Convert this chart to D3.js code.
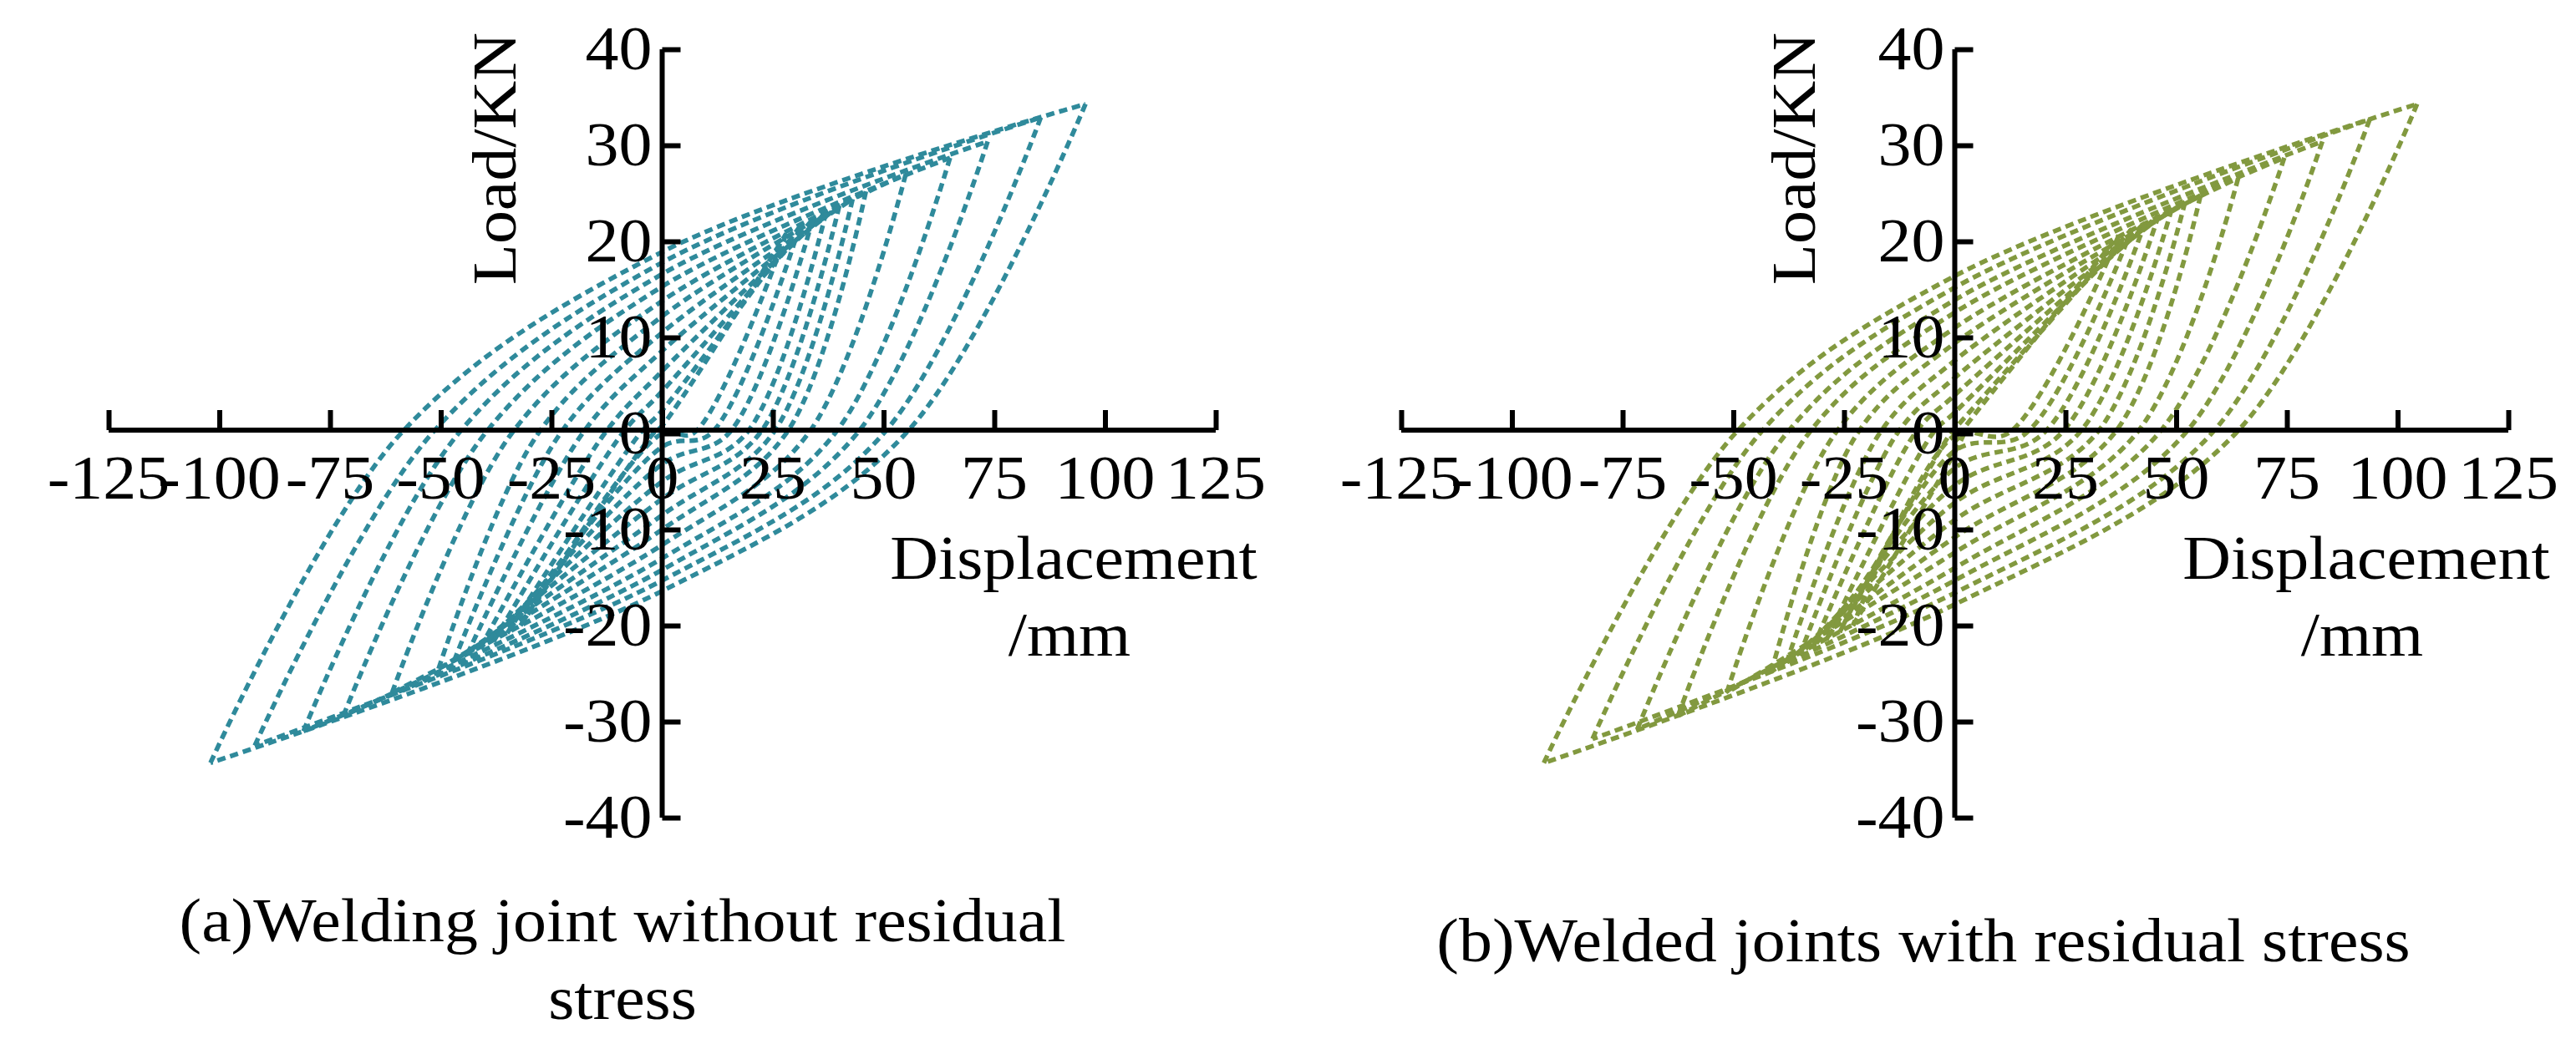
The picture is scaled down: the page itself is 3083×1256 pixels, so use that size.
<!DOCTYPE html>
<html><head><meta charset="utf-8">
<script src="https://cdn.jsdelivr.net/npm/d3@7"></script>
<style>body{margin:0;background:#fff}text{font-family:"Liberation Serif","Times New Roman",serif}</style>
</head><body>
<svg id="c" width="3083" height="1256"></svg>
<script>
// ticks
const xTicks = [-125,-100,-75,-50,-25,0,25,50,75,100,125];
const yTicks = [-40,-30,-20,-10,0,10,20,30,40];
// Loops: [posPeakX,posPeakY,negPeakX,negPeakY, upperZeroLoadX, upperZeroDispY, lowerZeroLoadX, lowerZeroDispY]
const loopsA = [
 [95.6,34.3,-102,-34.3,-59,18.9,55,-16.4],
 [85.5,32.9,-92,-32.5,-52,17.8,50,-15.3],
 [73.5,30.4,-81,-31,-46,16.6,44,-14.2],
 [65,28.7,-72,-29.4,-40,15.3,39,-13],
 [55,27,-61,-27,-34,13.8,33,-11.6],
 [46,25.2,-50.5,-24.5,-28,12.2,28,-10],
 [43,24.4,-47,-23.7,-23,10.5,25,-8.5],
 [40,23.7,-44,-23,-18,8.6,22,-6.8],
 [37,23,-41,-22.3,-13,6.5,19,-5],
 [34,22.3,-38,-21.6,-9,4.4,15,-3.2],
 [31,21.5,-35,-20.8,-5,2.4,11,-1.4],
 [28,20.8,-32,-20,-2,0.8,7,0]
];
const loopsB = [
 [104.4,34.3,-92.8,-34.3,-49.6,16.4,63.4,-17.8],
 [93.7,32.7,-81.8,-31.8,-44,15.2,58,-16.6],
 [83,30.4,-71.7,-30.8,-38,13.9,52,-15.3],
 [74.4,28.7,-62.5,-29.4,-33,12.6,46,-14],
 [64,26.6,-51.5,-27,-27,11,41,-12.4],
 [55.5,24.8,-41.4,-24.8,-22,9.4,36,-10.8],
 [52,24.1,-38,-23.9,-17,7.6,32,-9],
 [49,23.4,-35,-23.1,-13,5.8,28,-7.2],
 [46,22.7,-32,-22.3,-9,4,24,-5.4],
 [43,22,-29,-21.5,-5,2.2,20,-3.6],
 [40,21.3,-26,-20.7,-1,0.5,16,-1.8],
 [37,20.6,-23,-20,2,-0.8,12,-0.2]
];
const panels = [
 {x0:130,x1:1455,loops:loopsA,color:"#2f8a9b",ylab:617,disp:1285,cap:["(a)Welding joint without residual","stress"],capX:745,capY:[1127,1220]},
 {x0:1677,x1:3002,loops:loopsB,color:"#82993f",ylab:2172,disp:2832,cap:["(b)Welded joints with residual stress"],capX:2302,capY:[1151]}
];
const svg = d3.select("#c");
const FS = 74, SX = 1.08;
function txt(g,x,y,s,anchor,rot){
  const t = g.append("g").attr("transform",`translate(${x},${y})`+(rot?` rotate(${rot})`:"")+` scale(${SX},1)`);
  t.append("text").attr("text-anchor",anchor||"middle").attr("font-size",FS).attr("fill","#000").text(s);
}
panels.forEach(p=>{
  const g = svg.append("g");
  const x = d3.scaleLinear().domain([-125,125]).range([p.x0,p.x1]);
  const y = d3.scaleLinear().domain([-40,40]).range([979,59]);
  const line = d3.line().x(d=>x(d[0])).y(d=>y(d[1])).curve(d3.curveCatmullRom.alpha(0.5));
  p.loops.forEach(L=>{
    const [xp,yp,xn,yn,a,b,c,d] = L;
    const upper = [[xn,yn],[a,0],[0,b],[xp,yp]];
    const lower = [[xp,yp],[c,0],[0,d],[xn,yn]];
    [upper,lower].forEach(pts=>{
      g.append("path").attr("d",line(pts)).attr("fill","none").attr("stroke",p.color)
       .attr("stroke-width",5.5).attr("stroke-dasharray","10,6");
    });
  });
  const ax = g.append("g").attr("transform",`translate(0,${y(0)-4})`)
    .call(d3.axisTop(x).tickValues(xTicks).tickSize(24).tickFormat(""));
  const ay = g.append("g").attr("transform",`translate(${x(0)},0)`)
    .call(d3.axisRight(y).tickValues(yTicks).tickSize(22).tickFormat(""));
  [ax,ay].forEach(a=>{a.selectAll("path,line").attr("stroke","#000").attr("stroke-width",6);});
  ax.select(".domain").attr("d",`M${p.x0},0H${p.x1}`);
  ay.select(".domain").attr("d",`M0,${y(40)}V${y(-40)}`);
  xTicks.forEach(v=>txt(g,x(v),y(0)+78,String(v),"middle"));
  yTicks.forEach(v=>txt(g,x(0)-12,y(v)+24,String(v),"end"));
  txt(g,p.ylab,190,"Load/KN","middle",-90);
  txt(g,p.disp,693,"Displacement","middle");
  txt(g,p.disp-5,785,"/mm","middle");
  p.cap.forEach((s,i)=>txt(g,p.capX,p.capY[i],s,"middle"));
});
</script>
</body></html>
